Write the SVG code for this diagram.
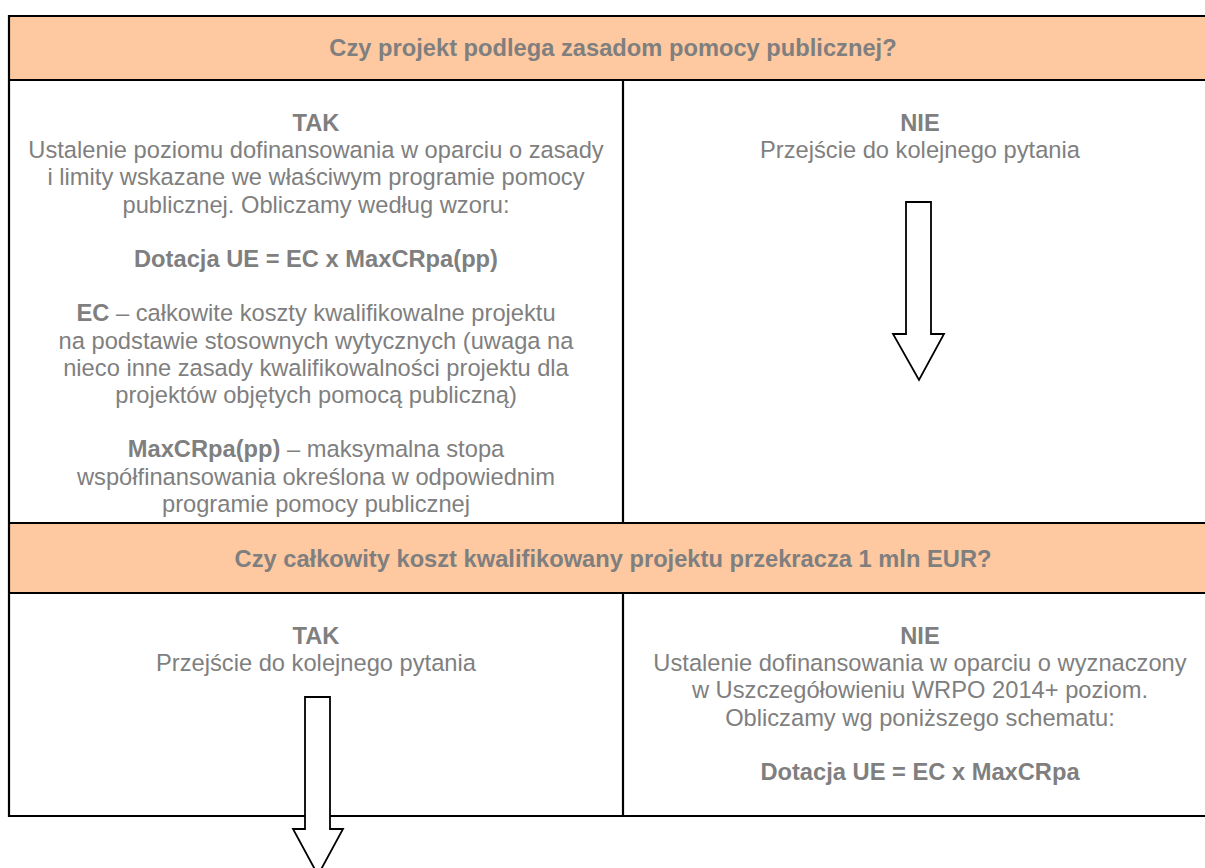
<svg xmlns="http://www.w3.org/2000/svg" width="1205" height="868" viewBox="0 0 1205 868">
<style>
.t{font-family:"Liberation Sans",Arial,sans-serif;font-size:23.7px;fill:#7f7f7f;text-anchor:middle}
.b{font-weight:bold}
.hdr{fill:#fec8a1;stroke:none}
.ln{stroke:#000;stroke-width:2.2;fill:none}
.arr{fill:#fff;stroke:#000;stroke-width:1.8;stroke-linejoin:miter}
</style>
<rect width="1205" height="868" fill="#fff"/>
<g id="header1">
<rect class="hdr" x="9" y="16" width="1210" height="64"/>
<text class="t b" x="613" y="56">Czy projekt podlega zasadom pomocy publicznej?</text>
</g>
<g id="header2">
<rect class="hdr" x="9" y="523" width="1210" height="70"/>
<text class="t b" x="613" y="567">Czy całkowity koszt kwalifikowany projektu przekracza 1 mln EUR?</text>
</g>
<g id="grid">
<line class="ln" x1="9" y1="16" x2="1220" y2="16"/>
<line class="ln" x1="9" y1="80" x2="1220" y2="80"/>
<line class="ln" x1="9" y1="523" x2="1220" y2="523"/>
<line class="ln" x1="9" y1="593" x2="1220" y2="593"/>
<line class="ln" x1="9" y1="816" x2="1220" y2="816"/>
<line class="ln" x1="9" y1="15" x2="9" y2="817"/>
<line class="ln" x1="623" y1="80" x2="623" y2="523"/>
<line class="ln" x1="623" y1="593" x2="623" y2="816"/>
</g>
<g id="q1-tak">
<text class="t b" x="316" y="131">TAK</text>
<text class="t" x="316" y="158.2">Ustalenie poziomu dofinansowania w oparciu o zasady</text>
<text class="t" x="316" y="185.4">i limity wskazane we właściwym programie pomocy</text>
<text class="t" x="316" y="212.6">publicznej. Obliczamy według wzoru:</text>
<text class="t b" x="316" y="267">Dotacja UE = EC x MaxCRpa(pp)</text>
<text class="t" x="316" y="321.4"><tspan class="b">EC</tspan> – całkowite koszty kwalifikowalne projektu</text>
<text class="t" x="316" y="348.6">na podstawie stosownych wytycznych (uwaga na</text>
<text class="t" x="316" y="375.8">nieco inne zasady kwalifikowalności projektu dla</text>
<text class="t" x="316" y="403">projektów objętych pomocą publiczną)</text>
<text class="t" x="316" y="457.4"><tspan class="b">MaxCRpa(pp)</tspan> – maksymalna stopa</text>
<text class="t" x="316" y="484.6">współfinansowania określona w odpowiednim</text>
<text class="t" x="316" y="511.8">programie pomocy publicznej</text>
</g>
<g id="q1-nie">
<text class="t b" x="920" y="131">NIE</text>
<text class="t" x="920" y="158.2">Przejście do kolejnego pytania</text>
</g>
<g id="q2-tak">
<text class="t b" x="316" y="644">TAK</text>
<text class="t" x="316" y="671.2">Przejście do kolejnego pytania</text>
</g>
<g id="q2-nie">
<text class="t b" x="920" y="644">NIE</text>
<text class="t" x="920" y="671.2">Ustalenie dofinansowania w oparciu o wyznaczony</text>
<text class="t" x="920" y="698.4">w Uszczegółowieniu WRPO 2014+ poziom.</text>
<text class="t" x="920" y="725.6">Obliczamy wg poniższego schematu:</text>
<text class="t b" x="920" y="780">Dotacja UE = EC x MaxCRpa</text>
</g>
<g id="connectors">
<path class="arr" d="M906,202 H931 V334 H944 L919,380 L893,334 H906 Z"/>
<path class="arr" d="M305,697 H330 V829 H343 L318,875 L293,829 H305 Z"/>
</g>
</svg>
